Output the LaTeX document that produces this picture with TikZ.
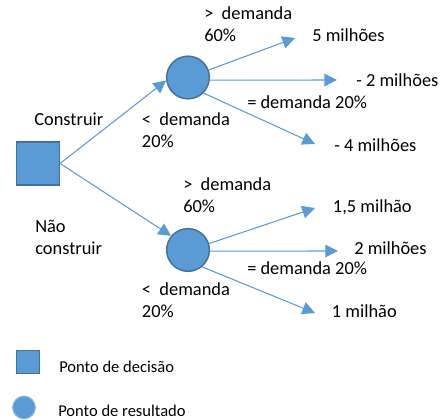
\documentclass[tikz,border=0pt]{standalone}
\usepackage{fontspec}
\setmainfont{Carlito}
\usetikzlibrary{arrows.meta,positioning,calc}
\definecolor{nodeblue}{HTML}{5B9BD5}
\definecolor{rimblue}{HTML}{41719C}
\tikzset{
  dpoint/.style={rectangle,draw=rimblue,fill=nodeblue,line width=1.1pt,minimum size=32pt,inner sep=0pt},
  rpoint/.style={circle,draw=rimblue,fill=nodeblue,line width=1.1pt,minimum size=32pt,inner sep=0pt},
  lbl/.style={anchor=base west,inner sep=0pt,align=left,font=\fontsize{13.8}{16.9}\selectfont},
  leg/.style={anchor=base west,inner sep=0pt,font=\fontsize{12.4}{15}\selectfont},
  br/.style={-{Triangle[length=9.5pt,width=9.5pt]},draw=nodeblue,line width=0.8pt}
}
\begin{document}
\begin{tikzpicture}[x=0.75pt,y=-0.75pt]
\useasboundingbox (0,0) rectangle (444,420);
\node[dpoint] (sq) at (38,163.5) {};
\node[rpoint] (ct) at (188,77.5) {};
\node[rpoint] (cb) at (188,250) {};
% arrow tips
\coordinate (t1) at (295,38);
\coordinate (t2) at (337,80);
\coordinate (t3) at (315,144);
\coordinate (b1) at (315,208);
\coordinate (b2) at (338,251);
\coordinate (b3) at (315,313);
\draw[br] (sq.east) -- (ct.188);
\draw[br] (sq.east) -- (cb.140);
\draw[br] (ct.20) -- (t1);
\draw[br] (ct.-7) -- (t2);
\draw[br] (ct.-45) -- (t3);
\draw[br] (cb.17) -- (b1);
\draw[br] (cb.-3) -- (b2);
\draw[br] (cb.-50) -- (b3);
% labels (multi-line: base is the last line)
\node[lbl] (bigt) at (204,41.7) {>\ \ demanda\\60\%};
\node[lbl] (o1) at (312,42) {5 milhões};
\node[lbl] (o2) at (356,87) {- 2 milhões};
\node[lbl] (eqt) at (247,109) {= demanda 20\%};
\node[lbl] (cons) at (34,126) {Construir};
\node[lbl] (smt) at (141.7,148) {<\ \ demanda\\20\%};
\node[lbl] (o3) at (334,151.7) {- 4 milhões};
\node[lbl] (bigb) at (183,212.7) {>\ \ demanda\\60\%};
\node[lbl] (o4) at (332.7,212.7) {1,5 milhão};
\node[lbl] (ncons) at (35,255) {Não\\construir};
\node[lbl] (o5) at (354,255) {2 milhões};
\node[lbl] (eqb) at (247,275) {= demanda 20\%};
\node[lbl] (smb) at (141.7,318) {<\ \ demanda\\20\%};
\node[lbl] (o6) at (331.7,318) {1 milhão};
% legend
\node[dpoint,minimum size=17pt,line width=0.8pt] (ldec) at (28,362) {};
\node[leg] (tdec) at (59,372.7) {Ponto de decisão};
\node[rpoint,minimum size=17pt,draw=nodeblue!70,line width=0.8pt] (lres) at (24,407.5) {};
\node[leg] (tres) at (58,416.7) {Ponto de resultado};
\end{tikzpicture}
\end{document}
